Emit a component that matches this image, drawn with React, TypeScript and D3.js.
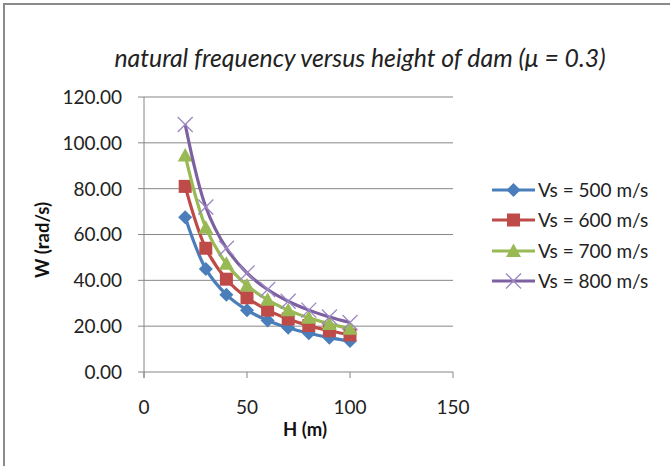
import React, { useEffect, useRef } from "react";
import * as d3 from "d3";

const heights = [20, 30, 40, 50, 60, 70, 80, 90, 100];
const vs500 = [67.5, 45.0, 33.75, 27.0, 22.5, 19.29, 16.88, 15.0, 13.5];
const vs600 = [81.0, 54.0, 40.5, 32.4, 27.0, 23.14, 20.25, 18.0, 16.2];
const vs700 = [94.5, 63.0, 47.25, 37.8, 31.5, 27.0, 23.63, 21.0, 18.9];
const vs800 = [108.0, 72.0, 54.0, 43.2, 36.0, 30.86, 27.0, 24.0, 21.6];
const seriesNames = ["Vs = 500 m/s", "Vs = 600 m/s", "Vs = 700 m/s", "Vs = 800 m/s"];
const xTicks = [0, 50, 100, 150];
const yTicks = [0, 20, 40, 60, 80, 100, 120];

const colors = ["#4A7EBB", "#BE4B48", "#98B954", "#7D60A0"];
const markers = ["diamond", "square", "triangle", "x"];
const FONT = "Lato, 'Open Sans', sans-serif";

export default function App() {
  const ref = useRef<SVGSVGElement>(null);
  useEffect(() => {
    document.body.style.margin = "0";
    const svg = d3.select(ref.current);
    svg.selectAll("*").remove();
    const W = 670, H = 466;
    svg.append("rect").attr("width", W).attr("height", H).attr("fill", "#fff");
    svg.append("rect").attr("x", 4).attr("y", 4).attr("width", 800).attr("height", 600)
      .attr("fill", "none").attr("stroke", "#8a8a8a").attr("stroke-width", 2);

    const x = d3.scaleLinear().domain([0, 150]).range([144, 453]);
    const y = d3.scaleLinear().domain([0, 120]).range([372, 97]);

    const g = svg.append("g");
    yTicks.forEach((t) => {
      g.append("line").attr("x1", 138).attr("x2", 453).attr("y1", y(t)).attr("y2", y(t))
        .attr("stroke", "#868686").attr("stroke-width", 1);
      g.append("text").attr("x", 122).attr("y", y(t)).attr("dy", "0.36em")
        .attr("text-anchor", "end").attr("font-family", FONT).attr("font-size", 19)
        .attr("fill", "#222").text(d3.format(".2f")(t));
    });
    g.append("line").attr("x1", x(0)).attr("x2", x(0)).attr("y1", y(120)).attr("y2", y(0) + 6)
      .attr("stroke", "#868686");
    xTicks.forEach((t) => {
      g.append("line").attr("x1", x(t)).attr("x2", x(t)).attr("y1", y(0)).attr("y2", y(0) + 6)
        .attr("stroke", "#868686");
      g.append("text").attr("x", x(t)).attr("y", 407).attr("dy", "0.36em")
        .attr("text-anchor", "middle").attr("font-family", FONT).attr("font-size", 19)
        .attr("fill", "#222").text(String(t));
    });

    svg.append("text").attr("x", 360).attr("y", 58).attr("dy", "0.36em")
      .attr("text-anchor", "middle").attr("font-family", FONT).attr("font-style", "italic")
      .attr("font-size", 24.8).attr("fill", "#222")
      .text("natural frequency versus height of dam (\u03bc = 0.3)");
    svg.append("text").attr("x", 305).attr("y", 429).attr("dy", "0.36em")
      .attr("text-anchor", "middle").attr("font-family", FONT).attr("font-weight", "bold")
      .attr("font-size", 18.5).attr("fill", "#111").text("H (m)");
    svg.append("text").attr("transform", "translate(42,240) rotate(-90)").attr("dy", "0.36em")
      .attr("text-anchor", "middle").attr("font-family", FONT).attr("font-weight", "bold")
      .attr("font-size", 18.5).attr("fill", "#111").text("W (rad/s)");

    const drawMarker = (sel: any, kind: string, cx: number, cy: number, color: string) => {
      if (kind === "diamond") {
        const s = 7;
        sel.append("path").attr("d", `M${cx},${cy - s}L${cx + s},${cy}L${cx},${cy + s}L${cx - s},${cy}Z`)
          .attr("fill", color);
      } else if (kind === "square") {
        const s = 6.5;
        sel.append("rect").attr("x", cx - s).attr("y", cy - s).attr("width", 2 * s).attr("height", 2 * s)
          .attr("fill", color);
      } else if (kind === "triangle") {
        const s = 7.5;
        sel.append("path").attr("d", `M${cx},${cy - s}L${cx + s},${cy + s * 0.8}L${cx - s},${cy + s * 0.8}Z`)
          .attr("fill", color);
      } else {
        const s = 7.5;
        sel.append("path").attr("d", `M${cx - s},${cy - s}L${cx + s},${cy + s}M${cx - s},${cy + s}L${cx + s},${cy - s}`)
          .attr("stroke", "#9c88c4").attr("stroke-width", 1.3).attr("fill", "none");
      }
    };

    const all = [vs500, vs600, vs700, vs800];
    const line = d3.line<number>().x((_, i) => x(heights[i])).y((d) => y(d))
      .curve(d3.curveCatmullRom.alpha(0.5));
    all.forEach((vals, si) => {
      const sg = svg.append("g");
      sg.append("path").attr("d", line(vals)).attr("fill", "none").attr("stroke", colors[si])
        .attr("stroke-width", 3.2).attr("stroke-linejoin", "round");
      vals.forEach((v, i) => drawMarker(sg, markers[si], x(heights[i]), y(v), colors[si]));
    });

    const rows = [190, 220, 251, 281];
    seriesNames.forEach((name, si) => {
      const lg = svg.append("g");
      lg.append("line").attr("x1", 492).attr("x2", 535).attr("y1", rows[si]).attr("y2", rows[si])
        .attr("stroke", colors[si]).attr("stroke-width", 3.2);
      drawMarker(lg, markers[si], 513.5, rows[si], colors[si]);
      lg.append("text").attr("x", 538).attr("y", rows[si]).attr("dy", "0.36em")
        .attr("font-family", FONT).attr("font-size", 19).attr("fill", "#222").text(name);
    });
  }, []);
  return <svg ref={ref} width={670} height={466} style={{ display: "block" }} />;
}
